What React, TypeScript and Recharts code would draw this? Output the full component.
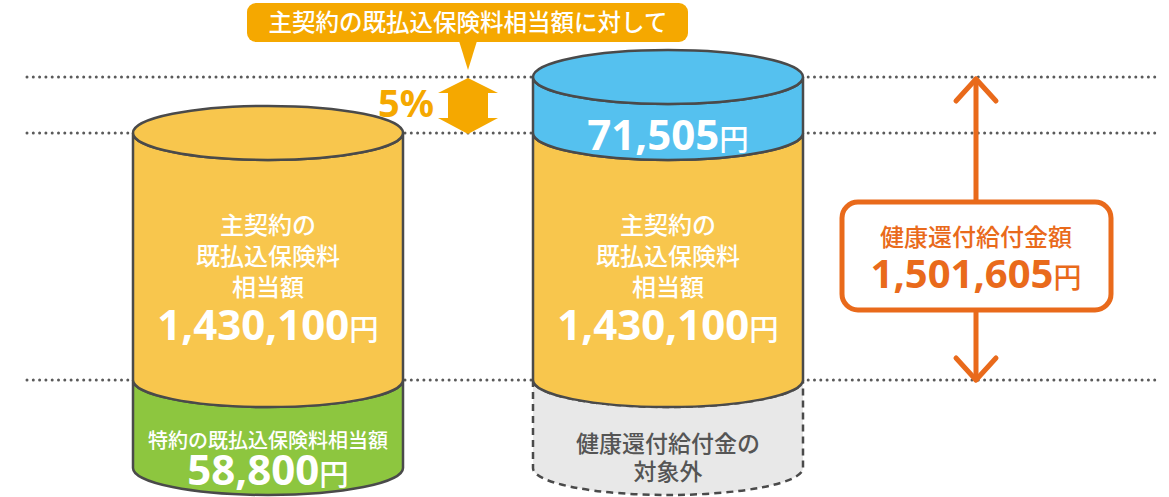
import React from 'react';
import { BarChart, Bar, XAxis, YAxis, ReferenceLine, ReferenceArea } from 'recharts';

// ---------- data ----------
const categories = ['既払込保険料', '健康還付給付金'];
const riderPremium = [58800, 58800];
const mainPremium = [1430100, 1430100];
const healthRefund = [0, 71505];
const riderLabels = [['特約の既払込保険料相当額'], ['健康還付給付金の', '対象外']];
const riderCounted = [true, false];
const mainLabels = ['主契約の', '既払込保険料', '相当額'];
const calloutText = '主契約の既払込保険料相当額に対して';
const refundRate = 5;
const totalLabel = '健康還付給付金額';
const yen = '円';

const rows = categories.map((name, i) => ({
  name,
  rider: riderPremium[i],
  main: mainPremium[i],
  refund: healthRefund[i] > 0 ? healthRefund[i] : null,
}));
const refundTotal = mainPremium[1] + healthRefund[1];
const stackTop = riderPremium[1] + mainPremium[1] + healthRefund[1];
const mainTop = riderPremium[1] + mainPremium[1];

// ---------- styles ----------
const OUTLINE = '#4a4a4a';
const YELLOW = '#F8C64D';
const BLUE = '#55C1EF';
const GREEN = '#8DC63F';
const GREY = '#E8E8E8';
const ORANGE = '#E96A1B';
const AMBER = '#F5A800';
const RY = 27;
const JP = "'Noto Sans CJK JP', sans-serif";
const NUM = "'Noto Sans', 'Noto Sans CJK JP', sans-serif";

// axis break: positions (fractions of plot height) of the stack boundaries
const BREAK_POS = [0, 0.225, 0.857, 1];

function brokenScale(breaks: number[], positions: number[]): any {
  let dom: number[] = [breaks[0], breaks[breaks.length - 1]];
  let rng: number[] = [0, 1];
  const frac = (v: number) => {
    const n = breaks.length;
    let i = 0;
    while (i < n - 2 && v > breaks[i + 1]) i++;
    const t = (v - breaks[i]) / (breaks[i + 1] - breaks[i]);
    return positions[i] + t * (positions[i + 1] - positions[i]);
  };
  const s: any = (v: any) => rng[0] + frac(Number(v)) * (rng[rng.length - 1] - rng[0]);
  s.domain = (d?: any) => {
    if (d === undefined) return dom.slice();
    dom = Array.from(d);
    return s;
  };
  s.range = (r?: any) => {
    if (r === undefined) return rng.slice();
    rng = Array.from(r);
    return s;
  };
  s.rangeRound = (r: any) => s.range(r);
  s.copy = () => brokenScale(breaks, positions).domain(dom).range(rng);
  s.ticks = () => breaks.slice();
  s.tickFormat = () => (v: any) => String(v);
  s.nice = () => s;
  s.clamp = () => s;
  s.unknown = () => s;
  s.interpolate = () => s;
  s.invert = (p: number) => {
    const f = (p - rng[0]) / (rng[rng.length - 1] - rng[0]);
    let i = 0;
    while (i < positions.length - 2 && f > positions[i + 1]) i++;
    const t = (f - positions[i]) / (positions[i + 1] - positions[i]);
    return breaks[i] + t * (breaks[i + 1] - breaks[i]);
  };
  return s;
}

const yScale = brokenScale([0, riderPremium[1], mainTop, stackTop], BREAK_POS);

const fmt = (v: number) => v.toLocaleString('en-US');

function bodyPath(x: number, y: number, w: number, h: number) {
  const rx = w / 2;
  return `M${x},${y} L${x},${y + h} A${rx},${RY} 0 0 0 ${x + w},${y + h} L${x + w},${y} A${rx},${RY} 0 0 1 ${x},${y} Z`;
}

// amount as tspans (number + smaller 円), to be placed inside a <text>
const amountSpans = (x: number, y: number, value: number, size = 42) => [
  <tspan key="n" x={x} y={y} fontFamily={NUM} fontWeight={700} fontSize={size}>
    {fmt(value)}
  </tspan>,
  <tspan key="y" fontFamily={JP} fontWeight={500} fontSize={size * 0.7}>
    {yen}
  </tspan>,
];

const RiderShape = (props: any) => {
  const { x, y, width: w, height: h, index } = props;
  if (!(h > 0)) return null;
  const counted = riderCounted[index];
  const cx = x + w / 2;
  const lines = riderLabels[index];
  return (
    <g>
      <path
        d={bodyPath(x, y, w, h)}
        fill={counted ? GREEN : GREY}
        stroke={OUTLINE}
        strokeWidth={2.5}
        strokeDasharray={counted ? undefined : '7 5'}
      />
      {counted ? (
        <text textAnchor="middle" fill="#fff">
          <tspan x={cx} y={y + 68} fontFamily={JP} fontWeight={500} fontSize={20}>
            {lines[0]}
          </tspan>
          {amountSpans(cx, y + 105, riderPremium[index], 42)}
        </text>
      ) : (
        <text textAnchor="middle" fill="#555" fontFamily={JP} fontWeight={500} fontSize={23}>
          {lines.map((t: string, i: number) => (
            <tspan key={i} x={cx} y={y + 72 + i * 28}>
              {t}
            </tspan>
          ))}
        </text>
      )}
    </g>
  );
};

const MainShape = (props: any) => {
  const { x, y, width: w, height: h, index } = props;
  if (!(h > 0)) return null;
  const isTop = !(healthRefund[index] > 0);
  const cx = x + w / 2;
  return (
    <g>
      <path d={bodyPath(x, y, w, h)} fill={YELLOW} stroke={OUTLINE} strokeWidth={2.5} />
      {isTop && <ellipse cx={cx} cy={y} rx={w / 2} ry={RY} fill={YELLOW} stroke={OUTLINE} strokeWidth={2.5} />}
      <text textAnchor="middle" fill="#fff">
        {mainLabels.map((t, i) => (
          <tspan key={i} x={cx} y={y + 101 + i * 31} fontFamily={JP} fontWeight={500} fontSize={24}>
            {t}
          </tspan>
        ))}
        {amountSpans(cx, y + 207, mainPremium[index], 42)}
      </text>
    </g>
  );
};

const RefundShape = (props: any) => {
  const { x, y, width: w, height: h, index } = props;
  if (!(h > 0)) return null;
  const cx = x + w / 2;
  return (
    <g>
      <path d={bodyPath(x, y, w, h)} fill={BLUE} stroke={OUTLINE} strokeWidth={2.5} />
      <ellipse cx={cx} cy={y} rx={w / 2} ry={RY} fill={BLUE} stroke={OUTLINE} strokeWidth={2.5} />
      <text textAnchor="middle" fill="#fff">
        {amountSpans(cx, y + 73, healthRefund[index], 42)}
      </text>
    </g>
  );
};

const DottedLine = (props: any) => (
  <line
    x1={27}
    x2={1156}
    y1={props.y1}
    y2={props.y2}
    stroke="#5a5a5a"
    strokeWidth={3}
    strokeLinecap="round"
    strokeDasharray="0 6.3"
  />
);

const RateShape = (props: any) => {
  const { x, y, width, height } = props;
  const cx = x + width / 2;
  const top = y;
  const bot = y + height;
  const pts = [
    [cx, top + 1], [cx + 30, top + 16], [cx + 20, top + 16], [cx + 20, bot - 15], [cx + 30, bot - 15],
    [cx, bot + 1], [cx - 30, bot - 15], [cx - 20, bot - 15], [cx - 20, top + 16], [cx - 30, top + 16],
  ].map((p) => p.join(',')).join(' ');
  return (
    <g>
      <polygon points={pts} fill={AMBER} />
      <text x={cx - 34} y={bot - 16} textAnchor="end" fill={AMBER} fontFamily={NUM} fontWeight={700} fontSize={38}>
        {refundRate}%
      </text>
      <rect x={cx - 221} y={3} width={441} height={39} rx={9} fill={AMBER} />
      <polygon points={`${cx - 9},41 ${cx + 9},41 ${cx},${top - 7}`} fill={AMBER} />
      <text x={cx} y={31} textAnchor="middle" fill="#fff" fontFamily={JP} fontWeight={500} fontSize={23.5}>
        {calloutText}
      </text>
    </g>
  );
};

const TotalShape = (props: any) => {
  const { x, y, width, height } = props;
  const ax = x + width + 108;
  const top = y;
  const bot = y + height;
  const boxTop = top + 125;
  return (
    <g>
      <line x1={ax} x2={ax} y1={top + 2} y2={bot} stroke={ORANGE} strokeWidth={5} strokeLinecap="round" />
      <polyline points={`${ax - 20},${top + 24} ${ax},${top + 2} ${ax + 20},${top + 24}`} fill="none" stroke={ORANGE} strokeWidth={5} strokeLinecap="round" strokeLinejoin="round" />
      <polyline points={`${ax - 20},${bot - 22} ${ax},${bot} ${ax + 20},${bot - 22}`} fill="none" stroke={ORANGE} strokeWidth={5} strokeLinecap="round" strokeLinejoin="round" />
      <rect x={ax - 134} y={boxTop} width={269} height={108} rx={16} fill="#fff" stroke={ORANGE} strokeWidth={5} />
      <text textAnchor="middle" fill={ORANGE}>
        <tspan x={ax} y={boxTop + 44} fontFamily={JP} fontWeight={500} fontSize={24}>
          {totalLabel}
        </tspan>
        {amountSpans(ax, boxTop + 86, refundTotal, 40)}
      </text>
    </g>
  );
};

export default function App() {
  return (
    <div style={{ position: 'absolute', left: 0, top: 0, width: 1169, height: 497, background: '#fff' }}>
      <BarChart
        width={1169}
        height={497}
        data={rows}
        margin={{ top: 77, right: 301, bottom: 29, left: 68 }}
        barSize={270}
        barGap={0}
      >
        <XAxis dataKey="name" hide />
        <YAxis hide type="number" domain={[0, stackTop]} scale={yScale} />
        <ReferenceLine y={stackTop} ifOverflow="visible" shape={DottedLine} zIndex={-10} />
        <ReferenceLine y={mainTop} ifOverflow="visible" shape={DottedLine} zIndex={-10} />
        <ReferenceLine y={riderPremium[0]} ifOverflow="visible" shape={DottedLine} zIndex={-10} />
        <Bar dataKey="rider" stackId="s" shape={RiderShape} isAnimationActive={false} />
        <Bar dataKey="main" stackId="s" shape={MainShape} isAnimationActive={false} />
        <Bar dataKey="refund" stackId="s" shape={RefundShape} isAnimationActive={false} />
        <ReferenceArea y1={mainTop} y2={stackTop} ifOverflow="visible" shape={RateShape} />
        <ReferenceArea y1={riderPremium[0]} y2={stackTop} ifOverflow="visible" shape={TotalShape} />
      </BarChart>
    </div>
  );
}
